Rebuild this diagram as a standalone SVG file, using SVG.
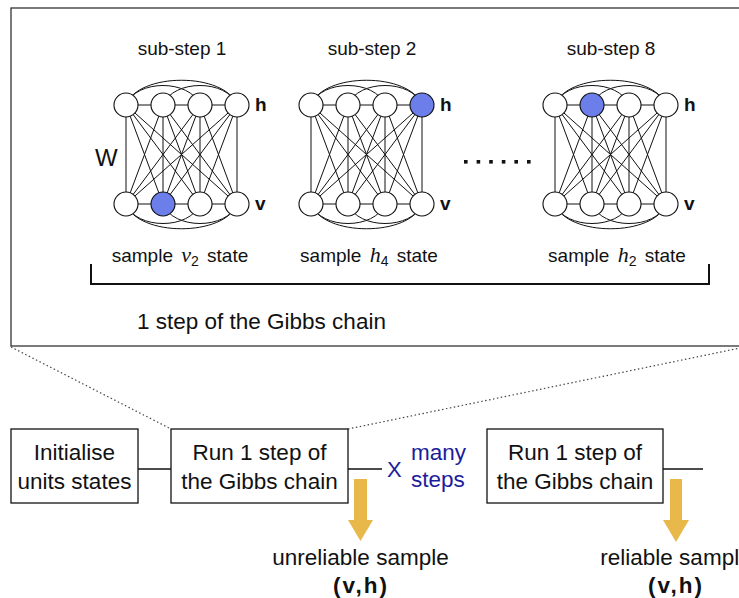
<svg xmlns="http://www.w3.org/2000/svg" xmlns:xlink="http://www.w3.org/1999/xlink" width="739" height="598" viewBox="0 0 739 598">
  <style>
    .lbl { font-family: "Liberation Sans", Arial, sans-serif; fill: #111; }
    .small { font-size: 19px; }
    .big { font-size: 22.5px; }
    .math { font-family: "Liberation Serif", "Times New Roman", serif; font-style: italic; font-size: 22px; }
    .sub { font-size: 14px; font-style: normal; font-family: "Liberation Sans", Arial, sans-serif; }
    .layer { font-family: "Liberation Sans", Arial, sans-serif; font-weight: bold; font-size: 19px; fill: #111; }
    .blue { fill: #1c1c9c; }
    .unit { fill: #fff; stroke: #111; stroke-width: 1.1; }
    .unit.on { fill: #6b7ee9; }
    .edge { fill: none; stroke: #111; stroke-width: 1; }
    .box { fill: #fff; stroke: #111; stroke-width: 1.3; }
    .link { fill: none; stroke: #111; stroke-width: 1.3; }
    .zoom { fill: none; stroke: #444; stroke-width: 1.2; stroke-dasharray: 1.5 2.5; }
    .arrow { fill: #e9b84a; }
  </style>
  <defs>
    <!-- connections of a fully connected two-layer network; units at x = 0,37,74,111, rows y = 0 and 99 -->
    <path id="bm-edges" class="edge" d="
      M0,0 L0,99 M0,0 L37,99 M0,0 L74,99 M0,0 L111,99
      M37,0 L0,99 M37,0 L37,99 M37,0 L74,99 M37,0 L111,99
      M74,0 L0,99 M74,0 L37,99 M74,0 L74,99 M74,0 L111,99
      M111,0 L0,99 M111,0 L37,99 M111,0 L74,99 M111,0 L111,99
      M0,0 H111 M0,99 H111
      M0,0 C12,-33 99,-33 111,0
      M0,0 C10,-26 64,-26 74,0
      M37,0 C47,-26 101,-26 111,0
      M0,99 C12,132 99,132 111,99
      M0,99 C10,125 64,125 74,99
      M37,99 C47,125 101,125 111,99"/>
  </defs>

  <!-- magnified frame -->
  <g id="detail-frame">
    <rect x="11" y="8" width="745" height="338" fill="#fff" stroke="#333" stroke-width="1.3"/>
  </g>

  <!-- zoom guide lines -->
  <g id="zoom-guides">
    <line class="zoom" x1="11" y1="347" x2="171" y2="429"/>
    <line class="zoom" x1="348" y1="429" x2="745" y2="347"/>
  </g>

  <!-- sub-step 1 -->
  <g id="substep-1">
    <text class="lbl small" x="182" y="55" text-anchor="middle">sub-step 1</text>
    <use xlink:href="#bm-edges" transform="translate(126,105)"/>
    <circle class="unit" cx="126" cy="105" r="12"/>
    <circle class="unit" cx="163" cy="105" r="12"/>
    <circle class="unit" cx="200" cy="105" r="12"/>
    <circle class="unit" cx="237" cy="105" r="12"/>
    <circle class="unit" cx="126" cy="204" r="12"/>
    <circle class="unit on" cx="163" cy="204" r="12"/>
    <circle class="unit" cx="200" cy="204" r="12"/>
    <circle class="unit" cx="237" cy="204" r="12"/>
    <text class="layer" x="255" y="111">h</text>
    <text class="layer" x="255" y="210">v</text>
    <text class="lbl" x="95" y="166" font-size="24">W</text>
    <text class="lbl small" x="180" y="262" text-anchor="middle">sample <tspan class="math" dx="3">v</tspan><tspan class="sub" dy="4">2</tspan><tspan dy="-4" dx="3"> state</tspan></text>
  </g>

  <!-- sub-step 2 -->
  <g id="substep-2">
    <text class="lbl small" x="372" y="55" text-anchor="middle">sub-step 2</text>
    <use xlink:href="#bm-edges" transform="translate(311,105)"/>
    <circle class="unit" cx="311" cy="105" r="12"/>
    <circle class="unit" cx="348" cy="105" r="12"/>
    <circle class="unit" cx="385" cy="105" r="12"/>
    <circle class="unit on" cx="422" cy="105" r="12"/>
    <circle class="unit" cx="311" cy="204" r="12"/>
    <circle class="unit" cx="348" cy="204" r="12"/>
    <circle class="unit" cx="385" cy="204" r="12"/>
    <circle class="unit" cx="422" cy="204" r="12"/>
    <text class="layer" x="440" y="111">h</text>
    <text class="layer" x="440" y="210">v</text>
    <text class="lbl small" x="369" y="262" text-anchor="middle">sample <tspan class="math" dx="3">h</tspan><tspan class="sub" dy="4">4</tspan><tspan dy="-4" dx="3"> state</tspan></text>
  </g>

  <!-- ellipsis between sub-steps -->
  <g id="ellipsis" fill="#111">
    <rect x="464" y="160" width="3.6" height="3.6"/>
    <rect x="476.6" y="160" width="3.6" height="3.6"/>
    <rect x="489.2" y="160" width="3.6" height="3.6"/>
    <rect x="501.8" y="160" width="3.6" height="3.6"/>
    <rect x="514.4" y="160" width="3.6" height="3.6"/>
    <rect x="527" y="160" width="3.6" height="3.6"/>
  </g>

  <!-- sub-step 8 -->
  <g id="substep-8">
    <text class="lbl small" x="611" y="55" text-anchor="middle">sub-step 8</text>
    <use xlink:href="#bm-edges" transform="translate(555,105)"/>
    <circle class="unit" cx="555" cy="105" r="12"/>
    <circle class="unit on" cx="592" cy="105" r="12"/>
    <circle class="unit" cx="629" cy="105" r="12"/>
    <circle class="unit" cx="666" cy="105" r="12"/>
    <circle class="unit" cx="555" cy="204" r="12"/>
    <circle class="unit" cx="592" cy="204" r="12"/>
    <circle class="unit" cx="629" cy="204" r="12"/>
    <circle class="unit" cx="666" cy="204" r="12"/>
    <text class="layer" x="684" y="111">h</text>
    <text class="layer" x="684" y="210">v</text>
    <text class="lbl small" x="617" y="262" text-anchor="middle">sample <tspan class="math" dx="3">h</tspan><tspan class="sub" dy="4">2</tspan><tspan dy="-4" dx="3"> state</tspan></text>
  </g>

  <!-- bracket grouping the sub-steps -->
  <g id="gibbs-bracket">
    <path d="M91,264 V284 H709 V264" fill="none" stroke="#111" stroke-width="2"/>
    <text class="lbl big" x="137" y="329">1 step of the Gibbs chain</text>
  </g>

  <!-- flow connectors -->
  <g id="connectors">
    <line class="link" x1="138" y1="469" x2="171" y2="469"/>
    <line class="link" x1="348" y1="469" x2="382" y2="469"/>
    <line class="link" x1="663" y1="469" x2="703" y2="469"/>
    <polygon class="arrow" points="354,479 367,479 367,520 373,520 360.5,541 348,520 354,520"/>
    <polygon class="arrow" points="670,479 682,479 682,520 689,520 676,542 663,520 670,520"/>
  </g>

  <g id="init-box">
    <rect class="box" x="11" y="429" width="127" height="74"/>
    <text class="lbl big" x="74.5" y="460" text-anchor="middle">Initialise</text>
    <text class="lbl big" x="74.5" y="489" text-anchor="middle">units states</text>
  </g>

  <g id="gibbs-step-1">
    <rect class="box" x="171" y="429" width="177" height="74"/>
    <text class="lbl big" x="259.5" y="460" text-anchor="middle">Run 1 step of</text>
    <text class="lbl big" x="259.5" y="489" text-anchor="middle">the Gibbs chain</text>
  </g>

  <g id="repeat-label">
    <text class="lbl blue" x="387" y="477" font-size="22">X</text>
    <text class="lbl blue big" x="411" y="460">many</text>
    <text class="lbl blue big" x="411" y="487">steps</text>
  </g>

  <g id="gibbs-step-n">
    <rect class="box" x="487" y="429" width="176" height="74"/>
    <text class="lbl big" x="575" y="460" text-anchor="middle">Run 1 step of</text>
    <text class="lbl big" x="575" y="489" text-anchor="middle">the Gibbs chain</text>
  </g>

  <g id="unreliable-sample">
    <text class="lbl big" x="360.5" y="565" text-anchor="middle">unreliable sample</text>
    <text class="lbl big" x="361" y="593" text-anchor="middle" font-weight="bold" letter-spacing="2">(v,h)</text>
  </g>

  <g id="reliable-sample">
    <text class="lbl big" x="676" y="565" text-anchor="middle">reliable sample</text>
    <text class="lbl big" x="676" y="593" text-anchor="middle" font-weight="bold" letter-spacing="2">(v,h)</text>
  </g>
</svg>
